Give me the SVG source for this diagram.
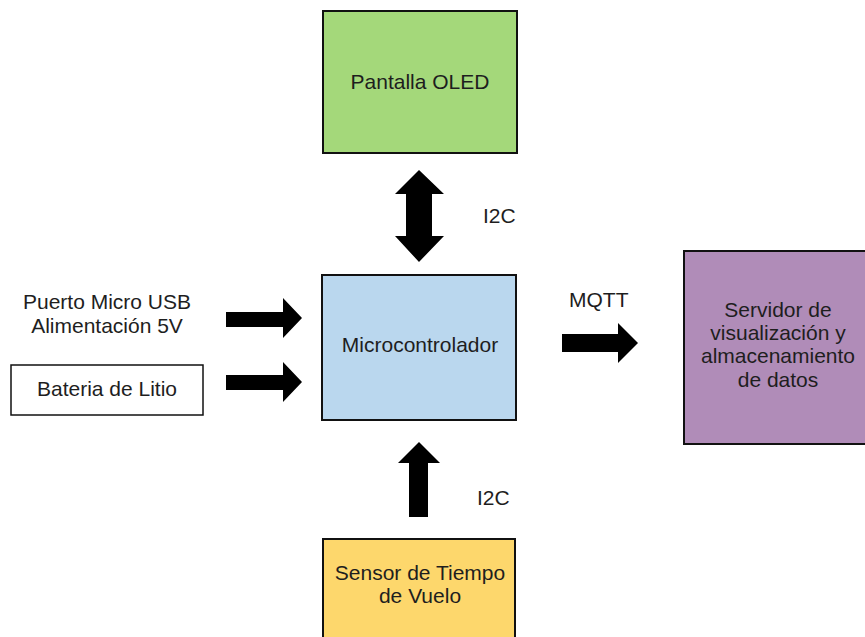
<svg xmlns="http://www.w3.org/2000/svg" width="865" height="637" viewBox="0 0 865 637">
<style>
.box{stroke:#111;stroke-width:2}
.t{font-family:"Liberation Sans",Arial,sans-serif;font-size:21px;fill:#1e1e1e;text-anchor:middle}
.l{font-family:"Liberation Sans",Arial,sans-serif;font-size:21px;fill:#1e1e1e}
.arr{fill:#000}
</style>
<rect width="865" height="637" fill="#fff"/>
<g id="oled">
<rect class="box" x="323" y="11" width="194" height="142" fill="#a4d87a"/>
<text class="t" x="420" y="89">Pantalla OLED</text>
</g>
<g id="micro">
<rect class="box" x="322" y="275" width="194" height="145" fill="#bad7ee"/>
<text class="t" x="420" y="352">Microcontrolador</text>
</g>
<g id="sensor">
<rect class="box" x="323" y="539" width="192" height="110" fill="#fdd76c"/>
<text class="t" x="420" y="580">Sensor de Tiempo</text>
<text class="t" x="420" y="603">de Vuelo</text>
</g>
<g id="servidor">
<rect class="box" x="684" y="251" width="190" height="193" fill="#b08cb8"/>
<text class="t" x="778" y="317">Servidor de</text>
<text class="t" x="778" y="340">visualización y</text>
<text class="t" x="778" y="363">almacenamiento</text>
<text class="t" x="778" y="387">de datos</text>
</g>
<g id="usb">
<text class="t" x="107" y="309">Puerto Micro USB</text>
<text class="t" x="107" y="333">Alimentación 5V</text>
</g>
<g id="bateria">
<rect x="11" y="365" width="192" height="50" fill="#fff" stroke="#111" stroke-width="1.5"/>
<text class="t" x="107" y="396">Bateria de Litio</text>
</g>
<g id="connectors">
<polygon class="arr" points="406,194 395,194 419,170 444,194 432,194 432,236 444,236 419,262 395,236 406,236"/>
<text class="l" x="483" y="223">I2C</text>
<polygon class="arr" points="409,517 409,463 398,463 419,442 440,463 428,463 428,517"/>
<text class="l" x="477" y="505">I2C</text>
<polygon class="arr" points="226,312 283,312 283,298 302,318 283,338 283,327 226,327"/>
<polygon class="arr" points="226,375 283,375 283,362 302,382 283,402 283,390 226,390"/>
<polygon class="arr" points="562,334 618,334 618,323 638,343 618,363 618,352 562,352"/>
<text class="l" x="569" y="307">MQTT</text>
</g>
</svg>
